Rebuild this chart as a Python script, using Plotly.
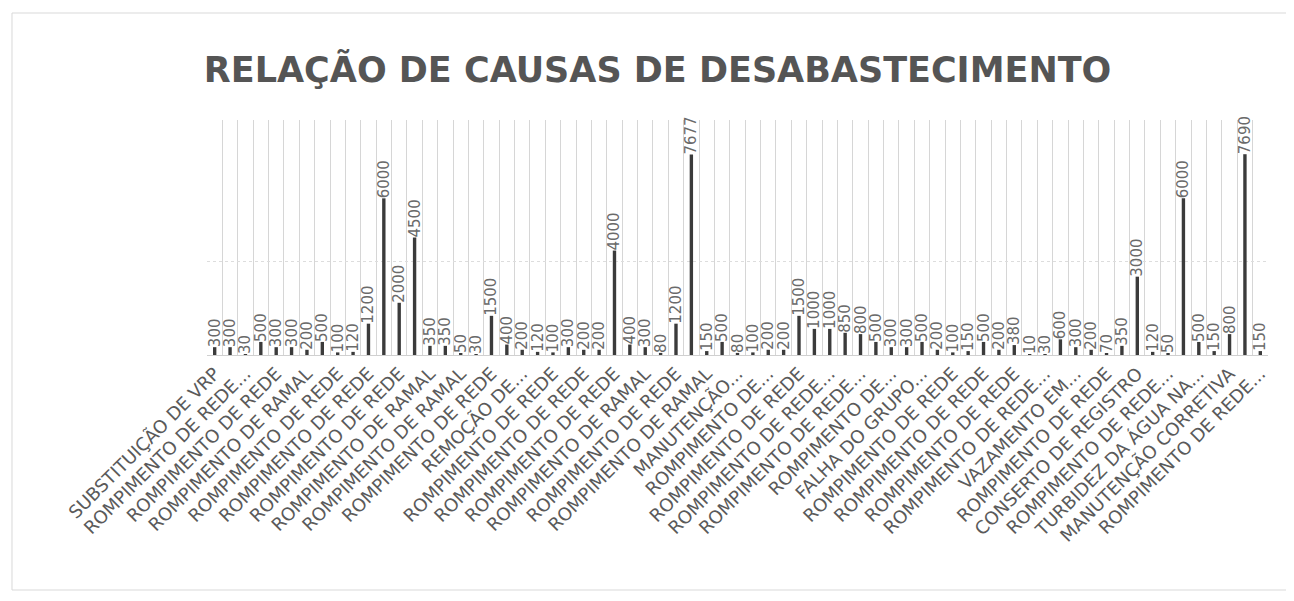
import plotly.graph_objects as go

title_text = "RELAÇÃO DE CAUSAS DE DESABASTECIMENTO"

# 69 categories; only every other one carries a visible axis label (as in the source)
tick_labels = [
    "SUBSTITUIÇÃO DE VRP",
    "ROMPIMENTO DE REDE...",
    "ROMPIMENTO DE REDE",
    "ROMPIMENTO DE RAMAL",
    "ROMPIMENTO DE REDE",
    "ROMPIMENTO DE REDE",
    "ROMPIMENTO DE REDE",
    "ROMPIMENTO DE RAMAL",
    "ROMPIMENTO DE RAMAL",
    "ROMPIMENTO DE REDE",
    "REMOÇÃO DE...",
    "ROMPIMENTO DE REDE",
    "ROMPIMENTO DE REDE",
    "ROMPIMENTO DE REDE",
    "ROMPIMENTO DE RAMAL",
    "ROMPIMENTO DE REDE",
    "ROMPIMENTO DE RAMAL",
    "MANUTENÇÃO...",
    "ROMPIMENTO DE...",
    "ROMPIMENTO DE REDE",
    "ROMPIMENTO DE REDE...",
    "ROMPIMENTO DE REDE...",
    "ROMPIMENTO DE...",
    "FALHA DO GRUPO...",
    "ROMPIMENTO DE REDE",
    "ROMPIMENTO DE REDE",
    "ROMPIMENTO DE REDE",
    "ROMPIMENTO DE REDE...",
    "VAZAMENTO EM...",
    "ROMPIMENTO DE REDE",
    "CONSERTO DE REGISTRO",
    "ROMPIMENTO DE REDE...",
    "TURBIDEZ DA ÁGUA NA...",
    "MANUTENÇÃO CORRETIVA",
    "ROMPIMENTO DE REDE...",
]

values = [
    300, 300, 30, 500, 300, 300, 200, 500, 100, 120,
    1200, 6000, 2000, 4500, 350, 350, 50, 30, 1500, 400,
    200, 120, 100, 300, 200, 200, 4000, 400, 300, 80,
    1200, 7677, 150, 500, 80, 100, 200, 200, 1500, 1000,
    1000, 850, 800, 500, 300, 300, 500, 200, 100, 150,
    500, 200, 380, 10, 30, 600, 300, 200, 70, 350,
    3000, 120, 50, 6000, 500, 150, 800, 7690, 150,
]

positions = list(range(len(values)))
tick_positions = positions[::2]

fig = go.Figure()
fig.add_trace(go.Bar(
    x=positions,
    y=values,
    width=0.22,
    marker=dict(color="#3b3b3b", line=dict(width=0)),
    text=[str(v) for v in values],
    textposition="outside",
    textangle=-90,
    constraintext="none",
    cliponaxis=False,
    textfont=dict(family="DejaVu Sans", size=15, color="#6a6a6a"),
    hoverinfo="x+y",
))

fig.update_layout(
    width=1294, height=601,
    paper_bgcolor="white", plot_bgcolor="white",
    margin=dict(l=199, r=34, t=112, b=254, autoexpand=False),
    showlegend=False,
    bargap=0.78,
    title=dict(
        text=title_text,
        x=0.502, xanchor="center",
        y=0.897, yanchor="middle",
        font=dict(family="DejaVu Sans", size=35, color="#555555", weight="bold"),
    ),
    xaxis=dict(
        automargin=False,
        range=[-0.5, len(values) - 0.5],
        tickmode="array",
        tickvals=tick_positions,
        ticktext=tick_labels,
        tickangle=-45,
        tickfont=dict(family="DejaVu Sans", size=18, color="#5a5a5a"),
        showgrid=False,
        zeroline=False,
        showline=True, linecolor="#d0d0d0", linewidth=1,
        ticks="",
        minor=dict(tick0=-0.5, dtick=1, showgrid=True, gridcolor="#d6d6d6", gridwidth=1, ticks=""),
    ),
    yaxis=dict(
        automargin=False,
        range=[0, 9000],
        tickmode="array",
        tickvals=[3600],
        showticklabels=False,
        showgrid=True, gridcolor="#dddddd", griddash="dot", gridwidth=1,
        zeroline=False,
        showline=False,
    ),
    shapes=[dict(
        type="rect", xref="paper", yref="paper",
        x0=-0.1838, x1=1.0207, y0=-1.0, y1=1.4553,
        line=dict(color="#d9d9d9", width=1), fillcolor="rgba(0,0,0,0)", layer="below",
    )],
)

fig.write_html("out.html")
